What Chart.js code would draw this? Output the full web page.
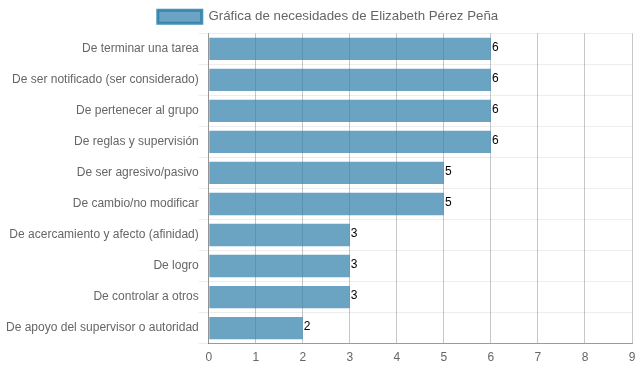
<!DOCTYPE html>
<html>
<head>
<meta charset="utf-8">
<script src="https://cdn.jsdelivr.net/npm/chart.js@4/dist/chart.umd.min.js"></script>
<style>
html,body{margin:0;padding:0;background:#fff;}
#c{display:block;}
</style>
</head>
<body>
<canvas id="c" width="639" height="372"></canvas>
<script>
const categories = [
  "De terminar una tarea",
  "De ser notificado (ser considerado)",
  "De pertenecer al grupo",
  "De reglas y supervisión",
  "De ser agresivo/pasivo",
  "De cambio/no modificar",
  "De acercamiento y afecto (afinidad)",
  "De logro",
  "De controlar a otros",
  "De apoyo del supervisor o autoridad"
];
const values = [6, 6, 6, 6, 5, 5, 3, 3, 3, 2];
const seriesLabel = "Gráfica de necesidades de Elizabeth Pérez Peña";
const xTicks = [0, 1, 2, 3, 4, 5, 6, 7, 8, 9];

Chart.defaults.font.family = "'Liberation Sans', Arial, Helvetica, sans-serif";
Chart.defaults.font.size = 12;
Chart.defaults.color = "#666";

const valueLabels = {
  id: 'valueLabels',
  afterLayout(chart) {
    if (chart.legend) { chart.legend.left += 9; chart.legend.right += 9; }
  },
  afterDatasetsDraw(chart) {
    const ctx = chart.ctx;
    const meta = chart.getDatasetMeta(0);
    ctx.save();
    ctx.font = "12px 'Liberation Sans', Arial, sans-serif";
    ctx.fillStyle = "#000";
    ctx.textAlign = "left";
    ctx.textBaseline = "middle";
    meta.data.forEach((bar, i) => {
      ctx.fillText(String(chart.data.datasets[0].data[i]), bar.x + 1, bar.y - 1);
    });
    ctx.restore();
  }
};

new Chart(document.getElementById('c'), {
  type: 'bar',
  data: {
    labels: categories,
    datasets: [{
      label: seriesLabel,
      data: values,
      backgroundColor: 'rgba(44,126,169,0.7)',
      borderColor: 'rgba(44,126,169,0.85)',
      borderWidth: 0
    }]
  },
  options: {
    indexAxis: 'y',
    responsive: false,
    animation: false,
    layout: { padding: { left: 6, right: 7, top: 0, bottom: 0 } },
    plugins: {
      legend: {
        labels: {
          boxWidth: 44,
          boxHeight: 13,
          font: { size: 13.3 },
          generateLabels(chart) {
            return [{
              text: seriesLabel,
              fillStyle: 'rgba(44,126,169,0.7)',
              strokeStyle: 'rgba(44,126,169,0.85)',
              lineWidth: 3,
              datasetIndex: 0,
              hidden: false,
              fontColor: '#666'
            }];
          }
        }
      },
      tooltip: { enabled: false }
    },
    scales: {
      x: {
        min: 0,
        max: 9,
        afterBuildTicks(scale) { scale.ticks = xTicks.map(v => ({ value: v })); },
        afterFit(scale) { scale.paddingRight = 0; },
        grid: { color: 'rgba(0,0,0,0.22)', drawTicks: false },
        border: { color: 'rgba(0,0,0,0.35)' },
        ticks: { padding: 7 }
      },
      y: {
        grid: { color: 'rgba(0,0,0,0.07)', tickLength: 10, drawTicks: true },
        border: { color: 'rgba(0,0,0,0.25)' },
        ticks: { padding: 0 }
      }
    }
  },
  plugins: [valueLabels]
});
</script>
</body>
</html>
